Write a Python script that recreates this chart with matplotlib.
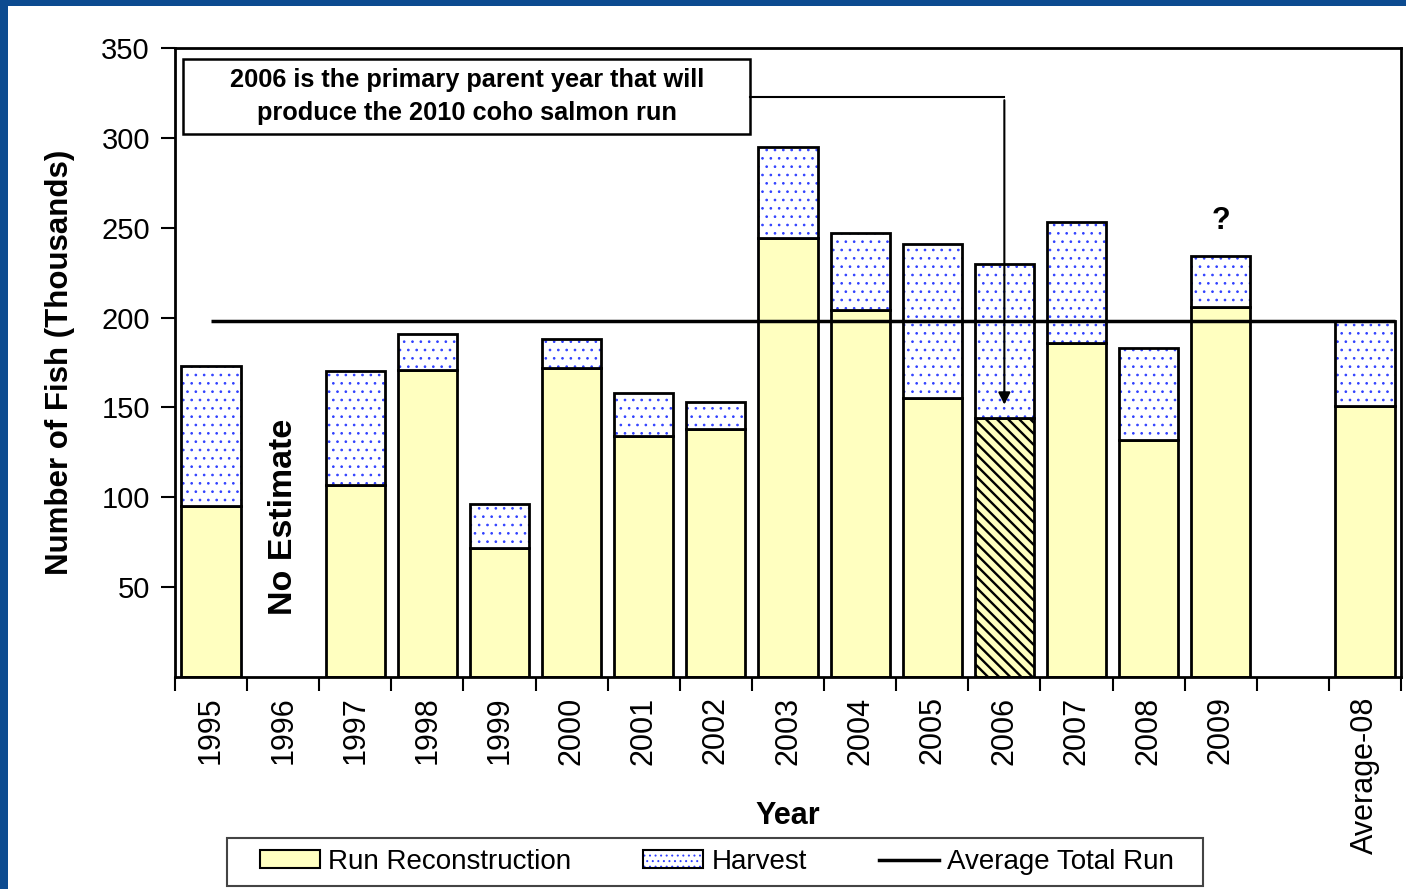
import numpy as np
import matplotlib
matplotlib.use("Agg")
import matplotlib.pyplot as plt
from matplotlib.patches import Rectangle, Patch
from matplotlib.lines import Line2D

plt.rcParams['font.family'] = ['Liberation Sans', 'DejaVu Sans']

# data (thousands of fish)
years = ['1995', '1996', '1997', '1998', '1999', '2000', '2001', '2002', '2003',
         '2004', '2005', '2006', '2007', '2008', '2009', '', 'Average-08']
run = [95, np.nan, 107, 171, 72, 172, 134, 138, 244, 204, 155, 144, 186, 132, 206, np.nan, 151]
harvest = [78, np.nan, 63, 20, 24, 16, 24, 15, 51, 43, 86, 86, 67, 51, 28, np.nan, 47]
avg_total = 198
parent_year = '2006'

run = np.array(run, dtype=float)
harvest = np.array(harvest, dtype=float)
x = np.arange(len(years))

yellow = '#ffffc0'
dotblue = '#3040ff'
w = 0.82

fig = plt.figure(figsize=(14.06, 8.89), dpi=100)
fig.patch.set_facecolor('#0c4b90')
# white slide panel
fig.patches.append(Rectangle((8/1406, 0), 1, 1 - 6/889, transform=fig.transFigure,
                             facecolor='white', edgecolor='none', zorder=-10))

ax = fig.add_axes([175/1406, 1 - 677/889, (1401 - 175)/1406, (677 - 48)/889])
ax.set_facecolor('white')

# run reconstruction bars (parent year gets diagonal hatch)
for i in range(len(years)):
    if np.isnan(run[i]):
        continue
    if years[i] == parent_year:
        plt.rcParams['hatch.linewidth'] = 1.7
        ax.bar(x[i], run[i], width=w, color=yellow, edgecolor='black', linewidth=2,
               hatch='\\\\\\', zorder=2)
    else:
        ax.bar(x[i], run[i], width=w, color=yellow, edgecolor='black', linewidth=2, zorder=2)

# harvest bars: dotted fill, then black outline
plt.rcParams['hatch.linewidth'] = 0.7
ax.bar(x, harvest, bottom=run, width=w, color='white', edgecolor=dotblue, linewidth=0,
       hatch='..', zorder=2)
ax.bar(x, harvest, bottom=run, width=w, fill=False, edgecolor='black', linewidth=2, zorder=3)

# average total run line
ax.hlines(avg_total, 0, len(years) - 1 + w/2, color='black', linewidth=2.5, zorder=4)

# text notes
ax.text(1, 89, 'No Estimate', rotation=90, ha='center', va='center',
        fontsize=24.5, fontweight='bold')
ax.text(14, 254, '?', ha='center', va='center', fontsize=22, fontweight='bold')

# annotation box + arrow to 2006
ax.add_patch(Rectangle((-0.39, 302), 7.87, 42, facecolor='white', edgecolor='black',
                       linewidth=1.8, zorder=5))
ax.text(3.55, 323, '2006 is the primary parent year that will\nproduce the 2010 coho salmon run',
        ha='center', va='center', fontsize=18.3, fontweight='bold', linespacing=1.5, zorder=6)
ax.plot([7.48, 11], [322.5, 322.5], color='black', linewidth=1.5, zorder=5)
ax.annotate('', xy=(11, 150), xytext=(11, 322.5),
            arrowprops=dict(arrowstyle='-|>', color='black', lw=1.5, mutation_scale=18),
            zorder=5)

# axes
ax.set_xlim(-0.5, len(years) - 0.5)
ax.set_ylim(0, 350)
ax.set_yticks([50, 100, 150, 200, 250, 300, 350])
ax.tick_params(axis='y', labelsize=21, length=10, width=1.5, direction='out', pad=8)
ax.set_xticks(x)
ax.set_xticklabels(years, rotation=90, fontsize=22)
ax.tick_params(axis='x', length=0, pad=14)
ax.set_xticks(np.arange(-0.5, len(years)), minor=True)
ax.tick_params(axis='x', which='minor', length=10, width=1.5, direction='out')
for s in ax.spines.values():
    s.set_linewidth(2)

ax.set_ylabel('Number of Fish (Thousands)', fontsize=22.5, fontweight='bold')
ax.yaxis.set_label_coords(-0.0816, 0.5)
ax.set_xlabel('Year', fontsize=22, fontweight='bold', va='center')
ax.xaxis.set_label_coords(0.5, -0.221)

# legend (frame drawn separately so its padding can match)
h_run = Patch(facecolor=yellow, edgecolor='black', linewidth=1.5)
h_harv = (Patch(facecolor='white', edgecolor=dotblue, hatch='...', linewidth=0),
          Patch(fill=False, edgecolor='black', linewidth=1.5))
h_avg = Line2D([0], [0], color='black', linewidth=2.5)
labels = ['Run Reconstruction', 'Harvest', 'Average Total Run']
leg = fig.legend([h_run, h_harv, h_avg], labels, loc='center',
                 bbox_to_anchor=(717/1406, 1 - 862/889),
                 ncol=3, fontsize=20, frameon=False,
                 handlelength=2.15, handleheight=0.6, handletextpad=0.3, columnspacing=2.6,
                 borderpad=0.2)
fig.patches.append(Rectangle((227/1406, 1 - 886/889), (1203 - 227)/1406, 48/889,
                             transform=fig.transFigure, facecolor='white',
                             edgecolor='#444444', linewidth=1.5, zorder=-5))

fig.savefig('out.png', dpi=100, facecolor=fig.get_facecolor())
